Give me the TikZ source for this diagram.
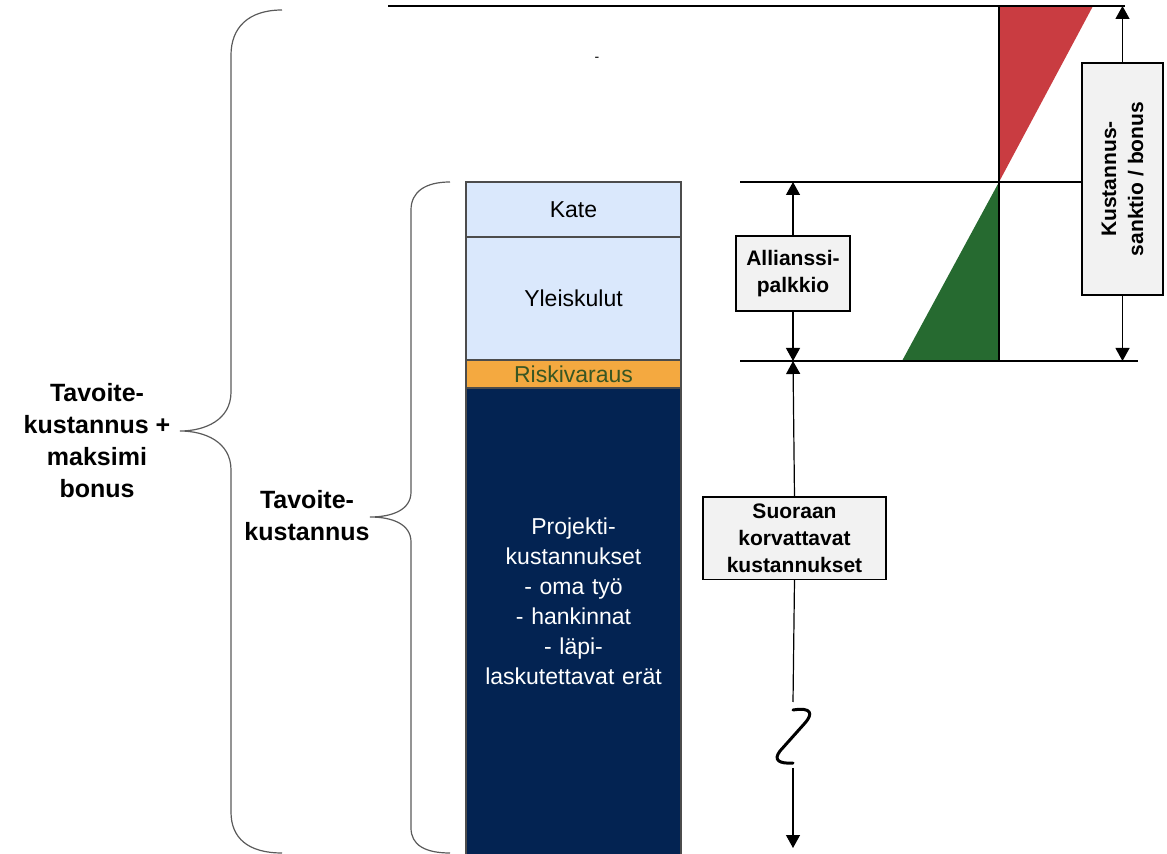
\documentclass[tikz,border=0pt]{standalone}
\usepackage{fontspec}
\setmainfont{Liberation Sans}
\usepackage{tikz}
\usetikzlibrary{positioning}
\usetikzlibrary{arrows.meta}
\definecolor{katebg}{RGB}{218,232,252}
\definecolor{riskbg}{RGB}{244,169,64}
\definecolor{risktext}{RGB}{56,86,35}
\definecolor{projbg}{RGB}{3,35,82}
\definecolor{sanctionred}{RGB}{201,60,65}
\definecolor{bonusgreen}{RGB}{38,106,48}
\definecolor{boxgray}{RGB}{242,242,242}
\definecolor{bracegray}{RGB}{90,90,90}
\tikzset{dim arrow/.style={-{Triangle[length=6.5pt, width=7pt]}, line width=0.6pt}}
\tikzset{my brace/.style={bracegray, line width=0.6pt}}
\tikzstyle{costbox} = [rectangle, draw=black!70, line width=0.6pt, minimum width=107.5pt, text width=100pt, align=center, inner ysep=0pt, outer sep=0pt, font=\fontsize{11.5}{15}\selectfont]
\tikzstyle{labelbox} = [rectangle, draw=black, line width=0.9pt, fill=boxgray, align=center, outer sep=0pt, font=\fontsize{10.5}{13.5}\selectfont\bfseries]
\tikzstyle{bracetext} = [align=center, font=\fontsize{12.5}{16}\selectfont\bfseries]

\begin{document}
\begin{tikzpicture}[x=0.5pt, y=-0.5pt]
  \useasboundingbox (0,0) rectangle (1167,854);

  % kustannuspylvas
  \node [costbox, fill=katebg, minimum height=27.5pt, anchor=north west] (kate) at (466,182) {Kate};
  \node [costbox, fill=katebg, minimum height=61.5pt, below=0pt of kate] (yleis) {Yleiskulut};
  \node [costbox, fill=riskbg, text=risktext, minimum height=14pt, below=0pt of yleis] (riski) {Riskivaraus};
  \node [costbox, fill=projbg, minimum height=236pt, below=0pt of riski] (projekti) {};
  \node [costbox, draw=none, text=white] (projtext) at (573.5,601) {Projekti-\\kustannukset\\- oma työ\\- hankinnat\\- läpi-\\laskutettavat erät};

  % aaltosulkeet
  \draw [my brace] (282,10) .. controls (248,10) and (231,28) .. (231,55) -- (231,392)
        .. controls (231,420) and (205,431) .. (180,431)
        .. controls (205,431) and (231,442) .. (231,470) -- (231,812)
        .. controls (231,838) and (248,853) .. (282,853);
  \draw [my brace] (450,182) .. controls (425,182) and (411,192) .. (411,210) -- (411,492)
        .. controls (411,510) and (392,517) .. (370,517)
        .. controls (392,517) and (411,524) .. (411,542) -- (411,828)
        .. controls (411,845) and (425,853) .. (450,853);
  \node [bracetext] (maksimi) at (97,441) {Tavoite-\\kustannus +\\maksimi\\bonus};
  \node [bracetext] (tavoite) at (307,516) {Tavoite-\\kustannus};
  \node [font=\fontsize{7}{7}\selectfont] (dash) at (597,59) {-};

  % tasoviivat ja kolmiot
  \fill [sanctionred] (999,6) -- (1093,6) -- (999,182) -- cycle;
  \fill [bonusgreen] (999,182) -- (999,361) -- (902,361) -- cycle;
  \draw [line width=0.6pt] (388,6) -- (1125,6);
  \draw [line width=0.6pt] (740,182) -- (1110,182);
  \draw [line width=0.6pt] (740,361) -- (1138,361);
  \draw [line width=0.6pt] (999,6) -- (999,361);

  % mittanuolet
  \coordinate (allitop) at (793,182);
  \coordinate (allibot) at (793,361);
  \coordinate (sanktop) at (1122.5,6);
  \coordinate (sankbot) at (1122.5,361);
  \coordinate (breaktop) at (793,702);
  \coordinate (breakup) at (793,710);
  \coordinate (breakdown) at (793,763);
  \coordinate (breakbot) at (793,768);
  \coordinate (costbot) at (793,848);

  \node [labelbox, minimum width=57pt, minimum height=37.5pt] (palkkio) at (793,273.5) {Allianssi-\\palkkio};
  \node [labelbox, rotate=90, minimum width=116pt, minimum height=40.5pt] (sanktio) at (1122.5,179) {Kustannus-\\sanktio / bonus};
  \node [labelbox, minimum width=91.5pt, minimum height=40.5pt] (suoraan) at (794.5,538.5) {Suoraan\\korvattavat\\kustannukset};

  \draw [dim arrow] (palkkio.north) -- (allitop);
  \draw [dim arrow] (palkkio.south) -- (allibot);
  \draw [dim arrow] (sanktio.east) -- (sanktop);
  \draw [dim arrow] (sanktio.west) -- (sankbot);
  \draw [dim arrow] (suoraan.north) -- (allibot);
  \draw [line width=0.6pt] (suoraan.south) -- (breaktop);
  \draw [line width=1.5pt, line cap=round] (breakup) .. controls (812,707) and (813,714) .. (805,723) -- (780,751) .. controls (773,760) and (779,764) .. (breakdown);
  \draw [dim arrow] (breakbot) -- (costbot);
\end{tikzpicture}
\end{document}
